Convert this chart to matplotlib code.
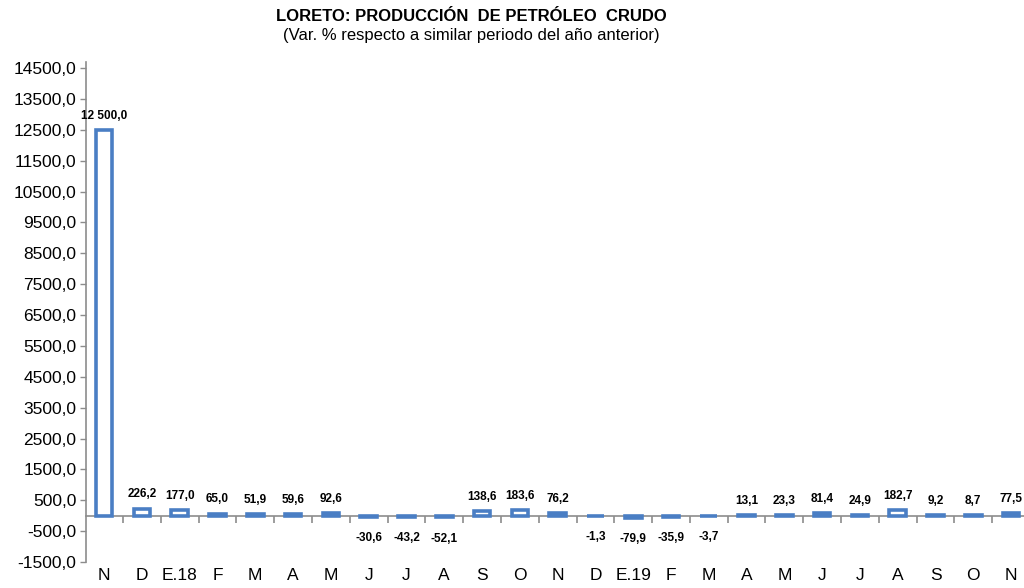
import matplotlib
matplotlib.use("Agg")
import matplotlib.pyplot as plt
import numpy as np

plt.rcParams['font.family'] = ['Liberation Sans', 'DejaVu Sans']

categories = ["N", "D", "E.18", "F", "M", "A", "M", "J", "J", "A", "S", "O", "N",
              "D", "E.19", "F", "M", "A", "M", "J", "J", "A", "S", "O", "N"]
values = [12500.0, 226.2, 177.0, 65.0, 51.9, 59.6, 92.6, -30.6, -43.2, -52.1, 138.6, 183.6, 76.2,
          -1.3, -79.9, -35.9, -3.7, 13.1, 23.3, 81.4, 24.9, 182.7, 9.2, 8.7, 77.5]
yticks = np.arange(-1500, 14501, 1000)

def fmt(v):
    s = f"{abs(v):,.1f}".replace(",", " ").replace(".", ",")
    return ("-" if v < 0 else "") + s

fig = plt.figure(figsize=(10.24, 5.88), dpi=100)
ax = fig.add_axes([0.084, 0.0442, 0.92, 0.8504])

x = np.arange(len(categories))
ax.bar(x, values, width=0.44, facecolor="white", edgecolor="#4A7EC4", linewidth=2.6, zorder=3)

for xi, v in zip(x, values):
    if v >= 0:
        ax.annotate(fmt(v), (xi, v), xytext=(0, 6), textcoords="offset points",
                    ha="center", va="bottom", fontsize=8.5, fontweight="bold")
    else:
        ax.annotate(fmt(v), (xi, v), xytext=(0, -11), textcoords="offset points",
                    ha="center", va="top", fontsize=8.5, fontweight="bold")

ax.set_xlim(-0.48, 24.45)
ax.set_ylim(-1500, 14700)
ax.set_yticks(yticks)
ax.set_yticklabels([f"{t:.1f}".replace(".", ",") for t in yticks], fontsize=12.5)

ax.spines['top'].set_visible(False)
ax.spines['right'].set_visible(False)
ax.spines['left'].set_color("#8c8c8c")
ax.spines['left'].set_linewidth(1.2)
ax.spines['bottom'].set_position(('data', 0))
ax.spines['bottom'].set_color("#8c8c8c")
ax.spines['bottom'].set_linewidth(1.2)
ax.tick_params(axis='y', color="#8c8c8c", length=4, width=1, pad=3)

ax.set_xticks(x)
ax.set_xticklabels(categories, fontsize=12.5)
ax.tick_params(axis='x', which='major', length=0, pad=38)
ax.set_xticks(x[:-1] + 0.5, minor=True)
ax.tick_params(axis='x', which='minor', length=5, color="#8c8c8c", width=1.2, direction='out')

fig.text(0.46, 0.972, "LORETO: PRODUCCIÓN  DE PETRÓLEO  CRUDO", ha="center", va="center",
         fontsize=12, fontweight="bold")
fig.text(0.46, 0.939, "(Var. % respecto a similar periodo del año anterior)", ha="center", va="center",
         fontsize=12)

fig.savefig("out.png", dpi=100)
